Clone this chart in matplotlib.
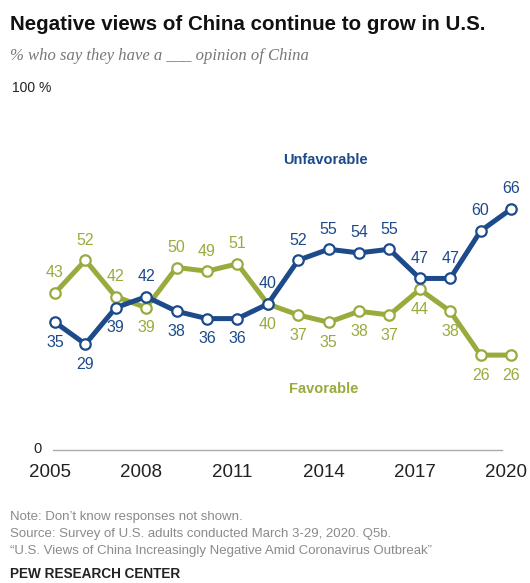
import matplotlib.pyplot as plt
from matplotlib.transforms import ScaledTranslation

# Share of U.S. adults with an (un)favorable opinion of China, 2005-2020
years = list(range(2005, 2021))
unfavorable = [35, 29, 39, 42, 38, 36, 36, 40, 52, 55, 54, 55, 47, 47, 60, 66]
favorable = [43, 52, 42, 39, 50, 49, 51, 40, 37, 35, 38, 37, 44, 38, 26, 26]
year_ticks = [2005, 2008, 2011, 2014, 2017, 2020]

# which side of the marker each value label goes: 1 above, -1 below
unfav_side = [-1, -1, -1, 1, -1, -1, -1, 1, 1, 1, 1, 1, 1, 1, 1, 1]
fav_side = [1, 1, 1, -1, 1, 1, 1, -1, -1, -1, -1, -1, -1, -1, -1, -1]

BLUE = "#1d4a8a"
GREEN = "#9aab3d"
GREY = "#8a8a8a"

plt.rcParams["font.family"] = ["Liberation Sans", "DejaVu Sans"]

fig = plt.figure(figsize=(5.30, 5.83), dpi=100)
ax = fig.add_axes([55 / 530, 1 - 450 / 583, 456 / 530, 365 / 583])
ax.set_xlim(2005, 2020)
ax.set_ylim(0, 100)
for s in ax.spines.values():
    s.set_visible(False)
ax.set_yticks([])
ax.set_xticks(year_ticks)
ax.set_xticklabels([str(y) for y in year_ticks], fontsize=13.5, color="#222222")
ax.tick_params(axis="x", length=0, pad=10)
# nudge year labels a little left so 2020 stays inside the figure
shift = ScaledTranslation(-0.05, 0, fig.dpi_scale_trans)
for lab in ax.get_xticklabels():
    lab.set_transform(lab.get_transform() + shift)

# baseline
ax.plot([2004.93, 2019.7], [0, 0], color="#aaaaaa", lw=1, clip_on=False)

for vals, sides, col in [(favorable, fav_side, GREEN), (unfavorable, unfav_side, BLUE)]:
    ax.plot(years, vals, color=col, lw=3.6, marker="o", ms=7.5,
            mfc="white", mec=col, mew=1.6, clip_on=False, solid_joinstyle="round")
    for x, v, sd in zip(years, vals, sides):
        ax.annotate(str(v), (x, v), xytext=(0, 14.5 * sd), textcoords="offset points",
                    ha="center", va="center", fontsize=11.5, color=col)

ax.text(2013.9, 79.5, "Unfavorable", color=BLUE, fontsize=10.5, fontweight="bold",
        ha="center", va="center")
ax.text(2013.85, 16.7, "Favorable", color=GREEN, fontsize=10.5, fontweight="bold",
        ha="center", va="center")

# headings
fig.text(10 / 530, 1 - 25 / 583, "Negative views of China continue to grow in U.S.",
         fontsize=14.8, fontweight="bold", color="#111111", va="center")
fig.text(10 / 530, 1 - 56 / 583, "% who say they have a ___ opinion of China",
         fontsize=12, style="italic", family="Liberation Serif", color="#777777", va="center")
fig.text(12 / 530, 1 - 88 / 583, "100 %", fontsize=10, color="#222222", va="center")
fig.text(33 / 530, 1 - 449 / 583, "0", fontsize=10.5, color="#222222", va="center")

# footnotes
notes = [
    "Note: Don\u2019t know responses not shown.",
    "Source: Survey of U.S. adults conducted March 3-29, 2020. Q5b.",
    "\u201cU.S. Views of China Increasingly Negative Amid Coronavirus Outbreak\u201d",
]
for i, line in enumerate(notes):
    fig.text(10 / 530, 1 - (517 + 17 * i) / 583, line, fontsize=9.5, color=GREY, va="center")
fig.text(10 / 530, 1 - 574 / 583, "PEW RESEARCH CENTER", fontsize=9.8,
         fontweight="bold", color="#222222", va="center")

fig.savefig("out.png", dpi=100, facecolor="white")
